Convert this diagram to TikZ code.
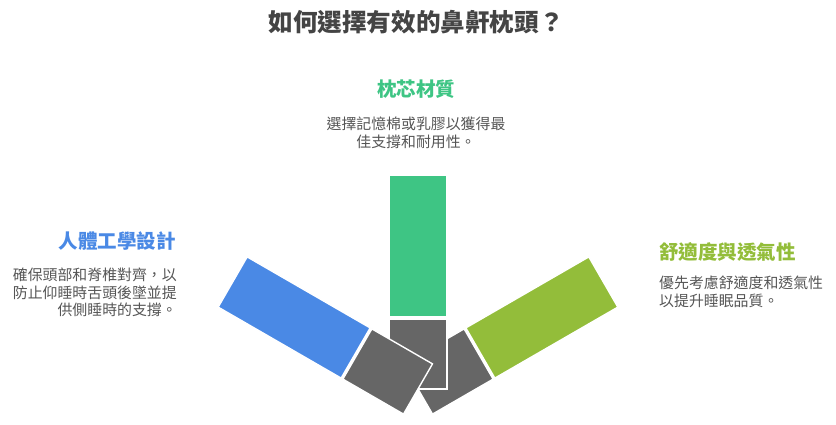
\documentclass[tikz,border=0pt]{standalone}
\usepackage{fontspec}
\setmainfont{Noto Sans CJK TC}
\definecolor{cblue}{HTML}{4A89E5}
\definecolor{cgreen}{HTML}{3EC584}
\definecolor{cyg}{HTML}{93BD3A}
\definecolor{cgray}{HTML}{666666}
\definecolor{ctitle}{HTML}{444444}
\definecolor{ctext}{HTML}{555555}
\begin{document}
\begin{tikzpicture}[x=1pt,y=1pt,
  barpart/.style={draw=white,line width=1.4pt},
  titletext/.style={inner sep=0pt,text=ctitle,font=\fontsize{24.6}{28}\selectfont\bfseries},
  headtext/.style={inner sep=0pt,font=\fontsize{19.5}{23}\selectfont\bfseries},
  desctext/.style={inner sep=0pt,text=ctext,font=\fontsize{14.9}{17.8}\selectfont}]
\useasboundingbox (0,0) rectangle (836,424);
\coordinate (hub) at (418,35);
% right bar (bottom layer)
\begin{scope}[shift={(hub)},rotate=-60]
  \fill[cyg,barpart] (-29,72) rectangle (29,214);
  \fill[cgray,barpart] (-29,0) rectangle (29,70);
\end{scope}
% centre bar
\begin{scope}[shift={(hub)}]
  \fill[cgreen,barpart] (-29,72) rectangle (29,214);
  \fill[cgray,barpart] (-29,0) rectangle (29,70);
\end{scope}
% left bar (top layer)
\begin{scope}[shift={(hub)},rotate=60]
  \fill[cblue,barpart] (-29,72) rectangle (29,214);
  \fill[cgray,barpart] (-29,0) rectangle (29,70);
\end{scope}
% texts
\node[titletext] (title) at (416,402) {如何選擇有效的鼻鼾枕頭？};
\node[headtext,text=cgreen] (h2) at (416,335) {枕芯材質};
\node[desctext,align=center] (d2) at (416,291.5) {選擇記憶棉或乳膠以獲得最\\佳支撐和耐用性。};
\node[headtext,text=cblue,anchor=east] (h1) at (176,183) {人體工學設計};
\node[desctext,align=right,anchor=east] (d1) at (177,131.5) {確保頭部和脊椎對齊，以\\防止仰睡時舌頭後墜並提\\供側睡時的支撐。};
\node[headtext,text=cyg,anchor=west] (h3) at (659,172.3) {舒適度與透氣性};
\node[desctext,align=left,anchor=west] (d3) at (659,132) {優先考慮舒適度和透氣性\\以提升睡眠品質。};
\end{tikzpicture}
\end{document}
